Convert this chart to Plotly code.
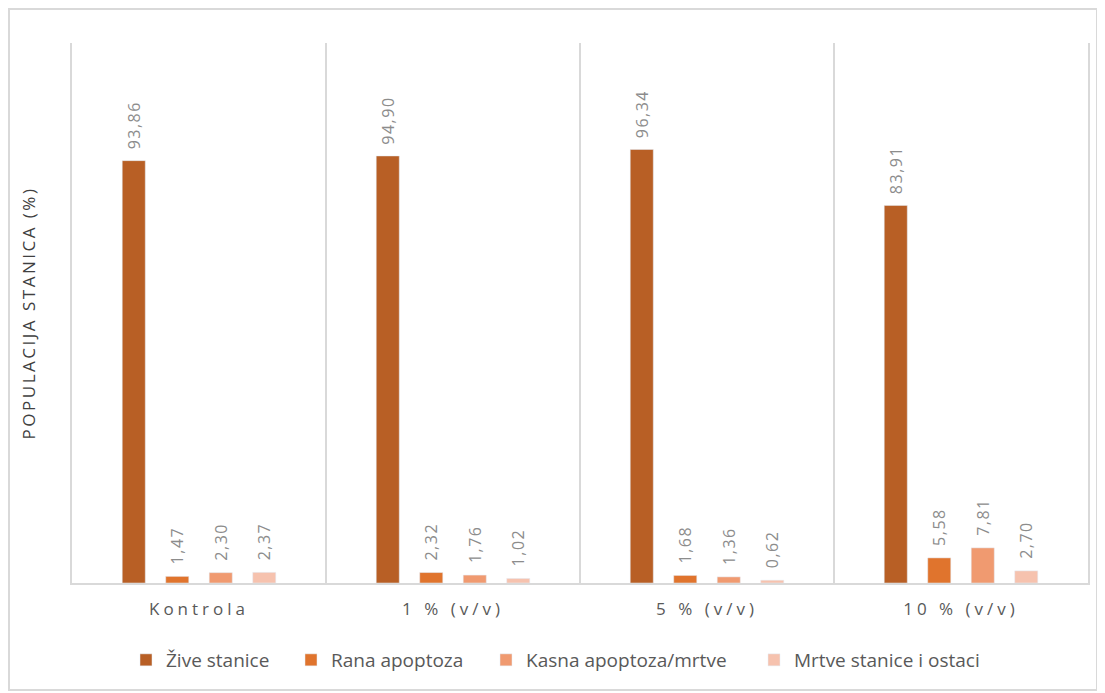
import plotly.graph_objects as go

categories = ["Kontrola", "1 % (v/v)", "5 % (v/v)", "10 % (v/v)"]
series_names = ["Žive stanice", "Rana apoptoza", "Kasna apoptoza/mrtve", "Mrtve stanice i ostaci"]
zive = [93.86, 94.90, 96.34, 83.91]
rana = [1.47, 2.32, 1.68, 5.58]
kasna = [2.30, 1.76, 1.36, 7.81]
mrtve = [2.37, 1.02, 0.62, 2.70]
colors = ["#B85F25", "#E0742D", "#F09A70", "#F6C2AE"]

# figure is rendered with an 8px page offset, so figure coords = page coords - 8
W, H = 1097, 685
L, T = 64, 35
R = W - 1080
B = H - 575
PW, PH = W - L - R, H - T - B

def px_x(px):
    return (px - L) / PW

def px_y(py):
    return (H - B - py) / PH

legend_names = ["legend", "legend2", "legend3", "legend4"]
legend_left_px = [118, 283, 478, 746]

fig = go.Figure()
for name, vals, col, lg in zip(series_names, [zive, rana, kasna, mrtve], colors, legend_names):
    fig.add_trace(go.Bar(
        x=categories, y=vals, name=name, marker_color=col,
        text=[f"{v:.2f}".replace(".", ",") for v in vals],
        textposition="outside", textangle=-90, constraintext="none",
        textfont=dict(color="#8C8C8C", size=16, family="Open Sans"),
        cliponaxis=False, legend=lg,
    ))

legend_common = dict(orientation="h", yanchor="middle", y=px_y(652), xanchor="left",
                     bgcolor="rgba(0,0,0,0)", itemwidth=30,
                     font=dict(size=19, color="#595959", family="Open Sans"))
legend_layout = {}
for lg, lx in zip(legend_names, legend_left_px):
    legend_layout[lg] = dict(legend_common, x=px_x(lx))

fig.update_layout(
    width=W, height=H,
    margin=dict(l=L, r=R, t=T, b=B),
    paper_bgcolor="white", plot_bgcolor="white",
    barmode="group", bargap=0.315, bargroupgap=0.47,
    font=dict(family="Open Sans", color="#595959"),
    showlegend=True,
    xaxis=dict(tickson="boundaries", showgrid=True, gridcolor="#D9D9D9", gridwidth=2,
               showline=True, linecolor="#D9D9D9", linewidth=2, ticks="",
               tickfont=dict(size=17, color="#595959"), ticklabelstandoff=10),
    yaxis=dict(range=[0, 120], showgrid=False, showticklabels=False, zeroline=False,
               showline=True, mirror=True, linecolor="#D9D9D9", linewidth=2,
               automargin=False,
               title=dict(text="POPULACIJA STANICA (%)", font=dict(size=17, color="#404040"),
                          standoff=30)),
    shapes=[dict(type="rect", xref="paper", yref="paper",
                 x0=px_x(1), x1=px_x(1089), y0=px_y(682), y1=px_y(1),
                 line=dict(color="#D9D9D9", width=2), layer="below")],
    **legend_layout,
)

post = """
document.querySelectorAll('.xtick text').forEach(function(t){t.style.letterSpacing='4px';});
document.querySelectorAll('.ytitle').forEach(function(t){t.style.letterSpacing='2.5px';});
document.querySelectorAll('text.bartext').forEach(function(t){
  t.style.letterSpacing='1.5px';
  var tr = t.getAttribute('transform') || '';
  t.setAttribute('transform', 'translate(0,-12) ' + tr);
});
"""

fig.write_html("out.html", post_script=post)
